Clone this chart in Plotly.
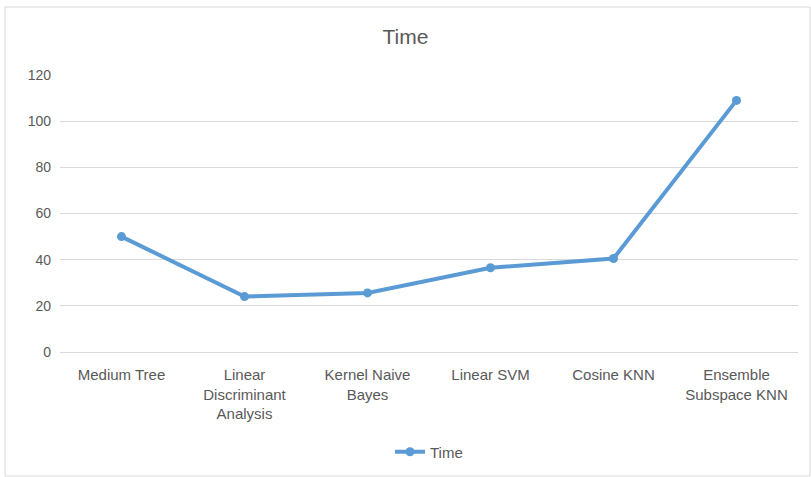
import plotly.graph_objects as go

categories = [
    "Medium Tree",
    "Linear<br>Discriminant<br>Analysis",
    "Kernel Naive<br>Bayes",
    "Linear SVM",
    "Cosine KNN",
    "Ensemble<br>Subspace KNN",
]
time_values = [50, 24, 25.6, 36.5, 40.5, 109]
y_ticks = [0, 20, 40, 60, 80, 100, 120]

W, H = 811, 477
L, R, T, B = 60, 13, 75, 125
pw, ph = W - L - R, H - T - B

font_family = "Liberation Sans Narrow, Liberation Sans, Arial"
gray = "#595959"

fig = go.Figure(
    go.Scatter(
        x=categories,
        y=time_values,
        mode="lines+markers",
        name="Time",
        line=dict(color="#5B9BD5", width=4),
        marker=dict(color="#5B9BD5", size=9),
    )
)

fig.update_layout(
    width=W,
    height=H,
    margin=dict(l=L, r=R, t=T, b=B, autoexpand=False),
    paper_bgcolor="white",
    plot_bgcolor="white",
    font=dict(family=font_family, color=gray, size=14),
    title=dict(
        text="Time",
        x=0.5,
        xanchor="center",
        y=1 - 37 / H,
        yanchor="middle",
        font=dict(size=21, color=gray, family=font_family),
    ),
    xaxis=dict(
        type="category",
        range=[-0.5, 5.5],
        automargin=False,
        showgrid=False,
        showline=False,
        zeroline=False,
        ticks="",
        ticklabelstandoff=12,
        tickfont=dict(size=15, color=gray),
    ),
    yaxis=dict(
        range=[0, 120],
        tickvals=y_ticks,
        automargin=False,
        showgrid=True,
        gridcolor="#D9D9D9",
        gridwidth=1,
        zeroline=True,
        zerolinecolor="#D9D9D9",
        zerolinewidth=1,
        showline=False,
        ticks="",
        ticklabelstandoff=8,
        tickfont=dict(size=14, color=gray),
    ),
    showlegend=True,
    legend=dict(
        orientation="h",
        x=0.5,
        xanchor="center",
        y=-100 / ph,
        yanchor="middle",
        font=dict(size=15, color=gray),
        bgcolor="rgba(0,0,0,0)",
    ),
    shapes=[
        dict(
            type="rect",
            xref="paper",
            yref="paper",
            x0=(5 - L) / pw,
            x1=(W - 1 - L) / pw,
            y0=-(H - 1 - (H - B)) / ph,
            y1=1 + (T - 7) / ph,
            line=dict(color="#D9D9D9", width=1),
            layer="below",
        )
    ],
)

fig.write_html("out.html")
